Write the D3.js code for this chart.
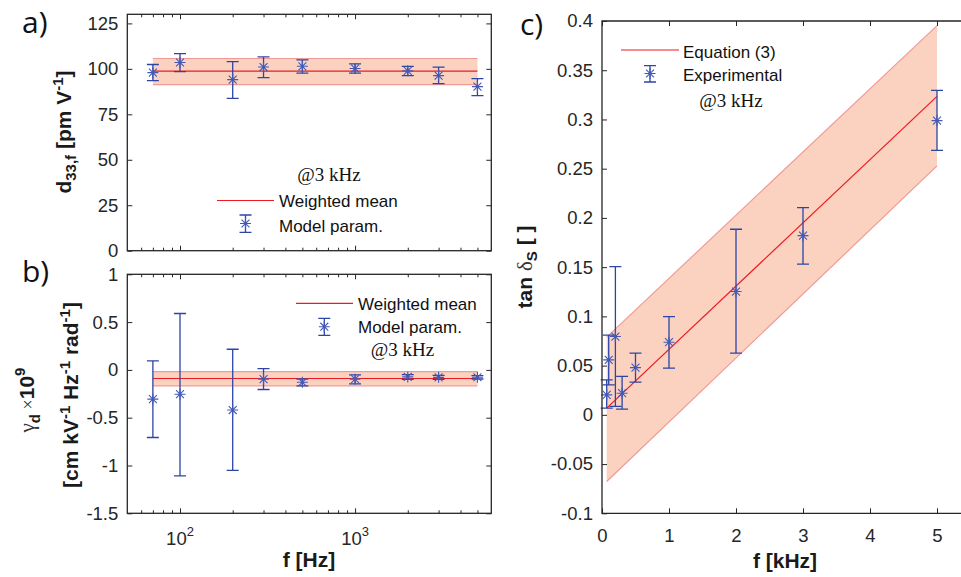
<!DOCTYPE html>
<html>
<head>
<meta charset="utf-8">
<script src="https://cdn.jsdelivr.net/npm/d3@7"></script>
<style>
  body { margin: 0; background: #fff; }
  svg { display: block; }
</style>
</head>
<body>
<svg id="fig" width="961" height="577"></svg>
<script>
// ---- Measurement data -------------------------------------------------
// Frequencies of the model-parameter fits (Hz) for panels a) and b)
const freqHz = [70, 100, 200, 300, 500, 1000, 2000, 3000, 5000];

// a) piezoelectric coefficient d33,f [pm/V] with error-bar limits
const d33    = [97.9, 103.5, 94.1, 101.0, 101.4, 100.2, 98.9, 96.3, 90.2];
const d33Lo  = [93.5, 98.5, 83.8, 95.2, 97.6, 97.6, 96.3, 91.9, 85.3];
const d33Hi  = [102.4, 108.4, 104.0, 106.6, 104.9, 102.7, 101.4, 101.0, 94.6];
const d33Mean = 98.7;
const d33MeanBand = [91.3, 105.7];

// b) gamma_d x 1e9 [cm kV^-1 Hz^-1 rad^-1] with error-bar limits
const gammaD   = [-0.306, -0.254, -0.420, -0.097, -0.129, -0.097, -0.073, -0.078, -0.077];
const gammaLo  = [-0.707, -1.109, -1.050, -0.205, -0.167, -0.146, -0.100, -0.100, -0.095];
const gammaHi  = [0.094, 0.590, 0.216, 0.014, -0.097, -0.052, -0.050, -0.058, -0.060];
const gammaMean = -0.090;
const gammaMeanBand = [-0.167, -0.017];

// c) loss tangent vs frequency (kHz)
const tanF   = [0.07, 0.1, 0.2, 0.3, 0.5, 1, 2, 3, 5];
const tanD   = [0.0203, 0.0558, 0.0795, 0.0220, 0.0480, 0.0738, 0.1252, 0.1820, 0.2988];
const tanLo  = [0.0068, 0.0305, 0.0085, 0.0058, 0.0332, 0.0474, 0.0626, 0.1530, 0.2687];
const tanHi  = [0.0355, 0.0810, 0.1506, 0.0390, 0.0626, 0.0998, 0.1885, 0.2105, 0.3296];
// Equation (3) prediction with its uncertainty band, at the end frequencies
const eqF  = [0.07, 5];
const eqY  = [0.0068, 0.3235];
const eqLo = [-0.0677, 0.2528];
const eqHi = [0.0789, 0.3953];

// Tick values
const ticksA = [0, 25, 50, 75, 100, 125];
const ticksB = [-1.5, -1, -0.5, 0, 0.5, 1];
const ticksCy = [-0.1, -0.05, 0, 0.05, 0.1, 0.15, 0.2, 0.25, 0.3, 0.35, 0.4];
const ticksCx = [0, 1, 2, 3, 4, 5];
const logMajor = [100, 1000];
const logMinor = [60, 70, 80, 90, 200, 300, 400, 500, 600, 700, 800, 900, 2000, 3000, 4000, 5000];

// ---- Styles -----------------------------------------------------------
const AX = '#262626', BLUE = '#2d46a6', STAR = '#4259b6', RED = '#ee1a22';
const BAND = '#fbd2c0', BANDEDGE = '#f09a98';
const SANS = '"Liberation Sans", Arial, Helvetica, sans-serif';
const SERIF = '"Liberation Serif", "Times New Roman", serif';
const TICK_FS = 18.5, LABEL_FS = 21, SUB_FS = 15, LEG_FS = 17;

const svg = d3.select('#fig');
svg.append('rect').attr('width', 961).attr('height', 577).attr('fill', '#fff');

// ---- Scales -----------------------------------------------------------
const xLog = d3.scaleLog().domain([50, 6000]).range([127.3, 491.3]);
const yA = d3.scaleLinear().domain([0, 130]).range([250.7, 14.3]);
const yB = d3.scaleLinear().domain([-1.5, 1]).range([513.3, 274.3]);
const xC = d3.scaleLinear().domain([0, 5.5]).range([602, 970.5]);
const yC = d3.scaleLinear().domain([-0.1, 0.4]).range([513.3, 21]);

// ---- Helpers ----------------------------------------------------------
function starPath(cx, cy, r) {
  const d = r * 0.72;
  return `M${cx - r},${cy}H${cx + r}M${cx},${cy - r}V${cy + r}` +
         `M${cx - d},${cy - d}L${cx + d},${cy + d}M${cx - d},${cy + d}L${cx + d},${cy - d}`;
}

function errorMarker(g, cx, cyLo, cyHi, cy) {
  const cap = 6;
  g.append('path')
    .attr('d', `M${cx},${cyHi}V${cyLo}M${cx - cap},${cyHi}H${cx + cap}M${cx - cap},${cyLo}H${cx + cap}`)
    .attr('stroke', BLUE).attr('stroke-width', 1.3).attr('fill', 'none');
  g.append('path').attr('d', starPath(cx, cy, 5.5))
    .attr('stroke', STAR).attr('stroke-width', 1.1).attr('fill', 'none');
}

function drawErrorbars(g, xs, ys, lo, hi, x, y) {
  xs.forEach((f, i) => errorMarker(g, x(f), y(lo[i]), y(hi[i]), y(ys[i])));
}

function bandAndLine(g, xs, lo, hi, mid, x, y) {
  const pts = xs.map((f, i) => ({ f, lo: lo[i], hi: hi[i], mid: mid[i] }));
  g.append('path').datum(pts)
    .attr('d', d3.area().x(d => x(d.f)).y0(d => y(d.lo)).y1(d => y(d.hi)))
    .attr('fill', BAND).attr('stroke', 'none');
  ['lo', 'hi'].forEach(k => g.append('path').datum(pts)
    .attr('d', d3.line().x(d => x(d.f)).y(d => y(d[k])))
    .attr('stroke', BANDEDGE).attr('stroke-width', 1.2).attr('fill', 'none'));
  g.append('path').datum(pts)
    .attr('d', d3.line().x(d => x(d.f)).y(d => y(d.mid)))
    .attr('stroke', RED).attr('stroke-width', 1.2).attr('fill', 'none');
}

function styleAxis(sel) {
  sel.select('.domain').remove();
  sel.attr('color', AX).attr('font-family', SANS).attr('font-size', TICK_FS);
  sel.selectAll('.tick line').attr('stroke-width', 1);
}

function logBoxAxes(g, y, top, bottom, left, right, ticks, fmt) {
  g.append('g').attr('transform', `translate(${left},0)`)
    .call(d3.axisLeft(y).tickValues(ticks).tickSize(-5).tickPadding(9).tickFormat(fmt)).call(styleAxis);
  g.append('g').attr('transform', `translate(${right},0)`)
    .call(d3.axisRight(y).tickValues(ticks).tickSize(-5).tickFormat('')).call(styleAxis);
  [[bottom, d3.axisBottom], [top, d3.axisTop]].forEach(([pos, ax]) => {
    g.append('g').attr('transform', `translate(0,${pos})`)
      .call(ax(xLog).tickValues(logMajor).tickSize(-5).tickFormat('')).call(styleAxis);
    g.append('g').attr('transform', `translate(0,${pos})`)
      .call(ax(xLog).tickValues(logMinor).tickSize(-3).tickFormat('')).call(styleAxis);
  });
  g.append('rect').attr('x', left).attr('y', top)
    .attr('width', right - left).attr('height', bottom - top)
    .attr('fill', 'none').attr('stroke', AX).attr('stroke-width', 1.3);
}

function legendLine(g, x0, x1, y, label) {
  g.append('line').attr('x1', x0).attr('x2', x1).attr('y1', y).attr('y2', y)
    .attr('stroke', RED).attr('stroke-width', 1.2);
}
function legendText(g, x, y, label, opts = {}) {
  return g.append('text').attr('x', x).attr('y', y)
    .attr('font-family', opts.serif ? SERIF : SANS)
    .attr('font-size', opts.size || LEG_FS)
    .attr('text-anchor', opts.anchor || 'start')
    .attr('fill', '#111').text(label);
}

function panelLetter(x, y, s) {
  svg.append('text').attr('x', x).attr('y', y)
    .attr('font-family', '"Open Sans", "DejaVu Sans", sans-serif')
    .attr('font-size', 30).attr('fill', '#111').text(s);
}

const fmtTick = d => String(+d.toFixed(2));

// ---- Panel a) ---------------------------------------------------------
const gA = svg.append('g');
bandAndLine(gA, [freqHz[0], freqHz[freqHz.length - 1]],
  [d33MeanBand[0], d33MeanBand[0]], [d33MeanBand[1], d33MeanBand[1]], [d33Mean, d33Mean], xLog, yA);
drawErrorbars(gA, freqHz, d33, d33Lo, d33Hi, xLog, yA);
logBoxAxes(gA, yA, 14.3, 250.7, 127.3, 491.3, ticksA, fmtTick);

legendText(gA, 329, 181, '@3 kHz', { serif: true, size: 19, anchor: 'middle' });
legendLine(gA, 217, 274, 200.5);
legendText(gA, 279, 206.5, 'Weighted mean');
errorMarker(gA, 245.5, 232.3, 215, 223.5);
legendText(gA, 279, 231.5, 'Model param.');

// y label a)
{
  const t = svg.append('text').attr('transform', 'translate(71,132) rotate(-90)')
    .attr('text-anchor', 'middle').attr('font-family', SANS).attr('font-weight', 'bold')
    .attr('font-size', LABEL_FS).attr('fill', '#1a1a1a');
  t.append('tspan').text('d');
  t.append('tspan').attr('font-size', SUB_FS).attr('dy', 5).text('33,f');
  t.append('tspan').attr('dy', -5).text(' [pm V');
  t.append('tspan').attr('font-size', SUB_FS).attr('dy', -8).text('-1');
  t.append('tspan').attr('dy', 8).text(']');
}

// ---- Panel b) ---------------------------------------------------------
const gB = svg.append('g');
bandAndLine(gB, [freqHz[0], freqHz[freqHz.length - 1]],
  [gammaMeanBand[0], gammaMeanBand[0]], [gammaMeanBand[1], gammaMeanBand[1]], [gammaMean, gammaMean], xLog, yB);
drawErrorbars(gB, freqHz, gammaD, gammaLo, gammaHi, xLog, yB);
logBoxAxes(gB, yB, 274.3, 513.3, 127.3, 491.3, ticksB, fmtTick);

// decade labels 10^2, 10^3
logMajor.forEach(v => {
  const t = gB.append('text').attr('x', xLog(v)).attr('y', 545)
    .attr('text-anchor', 'middle').attr('font-family', SANS).attr('font-size', TICK_FS).attr('fill', AX);
  t.append('tspan').text('10');
  t.append('tspan').attr('font-size', 13).attr('dy', -9).text(String(Math.round(Math.log10(v))));
});
svg.append('text').attr('x', 309).attr('y', 567).attr('text-anchor', 'middle')
  .attr('font-family', SANS).attr('font-weight', 'bold').attr('font-size', LABEL_FS)
  .attr('fill', '#1a1a1a').text('f [Hz]');

legendLine(gB, 296, 353, 303.3);
legendText(gB, 358, 309.5, 'Weighted mean');
errorMarker(gB, 324.3, 335.3, 318.3, 326.7);
legendText(gB, 358, 332.8, 'Model param.');
legendText(gB, 402.5, 356, '@3 kHz', { serif: true, size: 19, anchor: 'middle' });

// y label b), two lines
{
  const t1 = svg.append('text').attr('transform', 'translate(34,400) rotate(-90)')
    .attr('text-anchor', 'middle').attr('font-family', SANS).attr('font-size', LABEL_FS).attr('fill', '#1a1a1a');
  t1.append('tspan').attr('font-family', SERIF).attr('fill', '#333').text('\u03b3');
  t1.append('tspan').attr('font-weight', 'bold').attr('font-size', SUB_FS).attr('dy', 6).text('d');
  t1.append('tspan').attr('dy', -6).attr('font-family', SERIF).attr('font-size', 18).attr('fill', '#333').text(' \u00d7');
  t1.append('tspan').attr('font-weight', 'bold').text('10');
  t1.append('tspan').attr('font-weight', 'bold').attr('font-size', SUB_FS).attr('dy', -9).text('9');

  const t2 = svg.append('text').attr('transform', 'translate(78,395) rotate(-90)')
    .attr('text-anchor', 'middle').attr('font-family', SANS).attr('font-weight', 'bold')
    .attr('font-size', LABEL_FS).attr('fill', '#1a1a1a');
  t2.append('tspan').text('[cm kV');
  t2.append('tspan').attr('font-size', SUB_FS).attr('dy', -8).text('-1');
  t2.append('tspan').attr('dy', 8).text(' Hz');
  t2.append('tspan').attr('font-size', SUB_FS).attr('dy', -8).text('-1');
  t2.append('tspan').attr('dy', 8).text(' rad');
  t2.append('tspan').attr('font-size', SUB_FS).attr('dy', -8).text('-1');
  t2.append('tspan').attr('dy', 8).text(']');
}

// ---- Panel c) ---------------------------------------------------------
const gC = svg.append('g');
bandAndLine(gC, eqF, eqLo, eqHi, eqY, xC, yC);
drawErrorbars(gC, tanF, tanD, tanLo, tanHi, xC, yC);

gC.append('g').attr('transform', `translate(${xC(0)},0)`)
  .call(d3.axisLeft(yC).tickValues(ticksCy).tickSize(-5).tickPadding(9).tickFormat(fmtTick)).call(styleAxis);
gC.append('g').attr('transform', `translate(0,${yC(-0.1)})`)
  .call(d3.axisBottom(xC).tickValues(ticksCx).tickSize(-5).tickPadding(15.5).tickFormat(d3.format('d'))).call(styleAxis);
gC.append('g').attr('transform', `translate(0,${yC(0.4)})`)
  .call(d3.axisTop(xC).tickValues(ticksCx).tickSize(-5).tickFormat('')).call(styleAxis);
gC.append('path')
  .attr('d', `M${xC(5.5)},${yC(0.4)}H${xC(0)}V${yC(-0.1)}H${xC(5.5)}`)
  .attr('fill', 'none').attr('stroke', AX).attr('stroke-width', 1.3);

legendLine(gC, 621, 679, 50);
legendText(gC, 683, 57.5, 'Equation (3)');
errorMarker(gC, 650, 82, 65.7, 73.5);
legendText(gC, 683, 81, 'Experimental');
legendText(gC, 731, 107, '@3 kHz', { serif: true, size: 19, anchor: 'middle' });

svg.append('text').attr('x', 785).attr('y', 568).attr('text-anchor', 'middle')
  .attr('font-family', SANS).attr('font-weight', 'bold').attr('font-size', LABEL_FS)
  .attr('fill', '#1a1a1a').text('f [kHz]');
{
  const t = svg.append('text').attr('transform', 'translate(532,267) rotate(-90)')
    .attr('text-anchor', 'middle').attr('font-family', SANS).attr('font-weight', 'bold')
    .attr('font-size', LABEL_FS).attr('fill', '#1a1a1a');
  t.append('tspan').text('tan ');
  t.append('tspan').attr('font-family', SERIF).attr('font-weight', 'normal').attr('fill', '#333').text('\u03b4');
  t.append('tspan').attr('font-size', SUB_FS).attr('dy', 5).text('S');
  t.append('tspan').attr('dy', -5).text(' [ ]');
}

// ---- Panel letters ----------------------------------------------------
panelLetter(22, 33, 'a)');
panelLetter(22, 282, 'b)');
panelLetter(520, 35, 'c)');
</script>
</body>
</html>
